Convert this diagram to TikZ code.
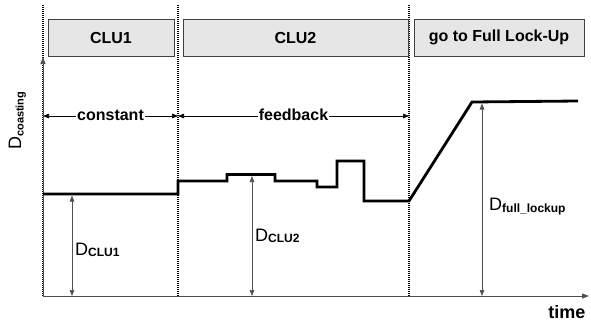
\documentclass[tikz,border=0pt]{standalone}
\usepackage{fontspec}
\setmainfont{Liberation Sans}
\usetikzlibrary{arrows.meta}
\definecolor{boxfill}{HTML}{E6E6E6}
\definecolor{boxline}{HTML}{404040}
\definecolor{dimgray}{HTML}{505050}
\newcommand{\Dlab}[3]{{\fontsize{18}{20}\selectfont D}\raisebox{-#3pt}{\fontsize{#2}{14}\selectfont\bfseries #1}}
\begin{document}
\begin{tikzpicture}[x=1pt,y=-1pt,
  phasebox/.style={draw=boxline,fill=boxfill,line width=0.8pt},
  phasetext/.style={font=\fontsize{16}{19}\selectfont\bfseries},
  divider/.style={black,line width=1.2pt,dash pattern=on 1pt off 1pt},
  axisline/.style={dimgray,line width=0.9pt,-{Triangle[length=7pt,width=5pt]}},
  dimline/.style={dimgray,line width=0.7pt,{Triangle[length=6pt,width=4.5pt]}-{Triangle[length=6pt,width=4.5pt]}},
  spanline/.style={black,line width=0.7pt,{Triangle[length=6pt,width=4.5pt]}-{Triangle[length=6pt,width=4.5pt]}},
  signal/.style={black,line width=2.8pt,line join=miter},
  spantext/.style={font=\fontsize{16}{19}\selectfont\bfseries,fill=white,inner sep=1pt}]
\useasboundingbox (0,0) rectangle (591,322);

% phase boundaries
\coordinate (t0top) at (43,5);   \coordinate (t0bot) at (43,296);
\coordinate (t1top) at (178,5);  \coordinate (t1bot) at (178,296);
\coordinate (t2top) at (409,5);  \coordinate (t2bot) at (409,296);
\draw[divider] (t0top) -- (t0bot);
\draw[divider] (t1top) -- (t1bot);
\draw[divider] (t2top) -- (t2bot);

% phase headers
\draw[phasebox] (48,19) rectangle (174,56);
\node[phasetext] (clu1) at (111,37.5) {CLU1};
\draw[phasebox] (183,19) rectangle (408,56);
\node[phasetext] (clu2) at (295.5,37.5) {CLU2};
\draw[phasebox] (414,19) rectangle (584,56);
\node[phasetext] (flu) at (499,37.5) {go to Full Lock-Up};

% axes
\coordinate (origin) at (43,296);
\coordinate (ytip) at (43,57);
\coordinate (xtip) at (589,296);
\draw[axisline] (origin) -- (ytip);
\draw[axisline] (origin) -- (xtip);
\node[anchor=base east,font=\fontsize{18}{20}\selectfont\bfseries] (time) at (589,318) {time};
\node[rotate=90,anchor=base west,inner sep=0pt] (ylab) at (21,150) {\Dlab{coasting}{11}{2.5}};

% control modes
\coordinate (s0) at (43,116);
\coordinate (s1) at (178,116);
\coordinate (s2) at (409,116);
\draw[spanline] (s0) -- (s1);
\draw[spanline] (s1) -- (s2);
\node[spantext] (constant) at (110.5,115) {constant};
\node[spantext] (feedback) at (293.5,115) {feedback};

% coasting duty trajectory
\coordinate (p0) at (43,194);
\coordinate (p1) at (178,194);
\coordinate (p2) at (178,181);
\coordinate (p3) at (227,181);
\coordinate (p4) at (227,174.5);
\coordinate (p5) at (275,174.5);
\coordinate (p6) at (275,181);
\coordinate (p7) at (317,181);
\coordinate (p8) at (317,187);
\coordinate (p9) at (337,187);
\coordinate (p10) at (337,161);
\coordinate (p11) at (364,161);
\coordinate (p12) at (364,201);
\coordinate (p13) at (409,201);
\coordinate (p14) at (472,102);
\coordinate (p15) at (578,101);
\draw[signal] (p0) -- (p1) -- (p2) -- (p3) -- (p4) -- (p5) -- (p6) -- (p7) -- (p8)
  -- (p9) -- (p10) -- (p11) -- (p12) -- (p13) -- (p14) -- (p15);

% duty levels
\coordinate (d1top) at (72,195.5);  \coordinate (d1bot) at (72,296);
\coordinate (d2top) at (252,176);   \coordinate (d2bot) at (252,296);
\coordinate (d3top) at (482,103.5); \coordinate (d3bot) at (482,296);
\draw[dimline] (d1top) -- (d1bot);
\draw[dimline] (d2top) -- (d2bot);
\draw[dimline] (d3top) -- (d3bot);
\node[anchor=base west,inner sep=0pt] (dclu1) at (75,255) {\Dlab{CLU1}{12}{1}};
\node[anchor=base west,inner sep=0pt] (dclu2) at (255,241) {\Dlab{CLU2}{12}{1}};
\node[anchor=base west,inner sep=0pt] (dflu) at (489,210) {\Dlab{full\_lockup}{12}{2}};
\end{tikzpicture}
\end{document}
